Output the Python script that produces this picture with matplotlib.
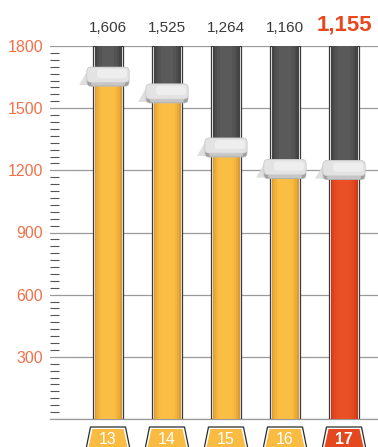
import matplotlib.pyplot as plt
from matplotlib.patches import FancyBboxPatch, Polygon
from matplotlib.ticker import MultipleLocator

# Data.
categories = ['13', '14', '15', '16', '17']
values = [1606, 1525, 1264, 1160, 1155]
value_labels = ['1,606', '1,525', '1,264', '1,160', '1,155']
y_ticks = [0, 300, 600, 900, 1200, 1500, 1800]
y_tick_labels = ['', '300', '600', '900', '1200', '1500', '1800']
y_max = 1800

plt.rcParams['font.family'] = ['Liberation Sans', 'DejaVu Sans']

W, H = 378, 447
fig = plt.figure(figsize=(W / 100, H / 100), dpi=100)
# axes: left edge at px 50, baseline at px 419, top (1800) at px 46
ax = fig.add_axes([50 / W, 28 / H, 328 / W, 373 / H])
px_x = 1 / 59.0            # x data units per pixel
px_y = y_max / 373.0       # y data units per pixel
ax.set_xlim(-58 * px_x, 270 * px_x)
ax.set_ylim(0, y_max)

for s in ax.spines.values():
    s.set_visible(False)
ax.set_xticks([])
ax.set_yticks(y_ticks)
ax.set_yticklabels(y_tick_labels, color='#F2714A', fontsize=11.5)
ax.tick_params(axis='y', which='major', length=0, pad=5)
ax.yaxis.set_minor_locator(MultipleLocator(100 / 3))
ax.tick_params(axis='y', which='minor', direction='in', length=6.5,
               width=0.8, color='#555555')
ax.grid(axis='y', color='#9a9a9a', linewidth=0.9, zorder=0)
ax.axhline(0, color='#9a9a9a', linewidth=0.9, zorder=1, clip_on=False)
ax.set_axisbelow(True)

x = list(range(len(categories)))
w_out = 30 * px_x


def shaded_bar(heights, colors, width_px, z):
    # crude horizontal gradient: stacked bars from wide/dark to narrow/light
    n = len(colors)
    for k, c in enumerate(colors):
        w = (width_px - k * (width_px - 8) / n) * px_x
        ax.bar(x, heights, width=w, color=c, zorder=z)


# track: frame, light inline, dark inside
ax.bar(x, y_max, width=w_out, color='#eeeeee', edgecolor='#3a3a3a',
       linewidth=0.9, zorder=2)
shaded_bar([y_max] * 5, ['#444444', '#4d4d4d', '#545454', '#5a5a5a'], 27, 3)

orange_shades = ['#DC9C2F', '#E9AA37', '#F3B43D', '#F9BB41', '#FBBE45']
red_shades = ['#C93A15', '#D9421B', '#E3481F', '#E84C22', '#EA5025']
for xi, v in zip(x, values):
    shades = red_shades if xi == x[-1] else orange_shades
    n = len(shades)
    for k, c in enumerate(shades):
        w = (27 - k * 19 / n) * px_x
        ax.bar(xi, v, width=w, color=c, zorder=4)

# slider handles sitting on top of each value
hw, hh = 42 * px_x, 19 * px_y
aspect = px_y / px_x
rs = 'round,pad=0,rounding_size=%f'
for xi, v in zip(x, values):
    shadow = Polygon([(xi - hw / 2, v + hh - 4 * px_y),
                      (xi - hw / 2 - 8 * px_x, v + 1 * px_y),
                      (xi - hw / 2, v + 1 * px_y)],
                     closed=True, facecolor='#dcdcdc', edgecolor='none',
                     alpha=0.9, zorder=5)
    ax.add_patch(shadow)
    base = FancyBboxPatch((xi - hw / 2, v), hw, hh,
                          boxstyle=rs % (4 * px_x), mutation_aspect=aspect,
                          facecolor='#9f9f9f', edgecolor='#bdbdbd',
                          linewidth=0.5, zorder=6)
    ax.add_patch(base)
    mid = FancyBboxPatch((xi - hw / 2 + 4 * px_x, v + 0.5 * px_y),
                         hw - 8 * px_x, 4 * px_y,
                         boxstyle=rs % (2 * px_x), mutation_aspect=aspect,
                         facecolor='#c6c6c6', edgecolor='none', zorder=7)
    ax.add_patch(mid)
    top = FancyBboxPatch((xi - hw / 2, v + 4 * px_y), hw, hh - 4 * px_y,
                         boxstyle=rs % (4 * px_x), mutation_aspect=aspect,
                         facecolor='#e3e3e3', edgecolor='#d2d2d2',
                         linewidth=0.5, zorder=8)
    ax.add_patch(top)
    hi = FancyBboxPatch((xi - hw / 2 + 10 * px_x, v + 8 * px_y),
                        hw - 12 * px_x, hh - 10 * px_y,
                        boxstyle=rs % (3 * px_x), mutation_aspect=aspect,
                        facecolor='#eeeeee', edgecolor='none', zorder=9)
    ax.add_patch(hi)

# value labels above the bars
label_y = y_max + 14 * px_y
for xi, lab in zip(x[:-1], value_labels[:-1]):
    ax.text(xi, label_y, lab, ha='center', va='baseline', fontsize=11,
            color='#3a3a3a', clip_on=False)
ax.text(x[-1], label_y + 1 * px_y, value_labels[-1], ha='center',
        va='baseline', fontsize=16, fontweight='bold', color='#E8461E',
        clip_on=False)

# trapezoid tabs under the bars
fills = ['#F9BB41'] * 4 + ['#E5471E']
t_top = -8 * px_y
t_bot = -40 * px_y
for xi, cat, c in zip(x, categories, fills):
    outer = Polygon([(xi - 17.5 * px_x, t_top), (xi + 17.5 * px_x, t_top),
                     (xi + 24 * px_x, t_bot), (xi - 24 * px_x, t_bot)],
                    closed=True, facecolor='white', edgecolor='#2a2a2a',
                    linewidth=0.9, clip_on=False, zorder=5)
    ax.add_patch(outer)
    inner = Polygon([(xi - 15.5 * px_x, t_top - 2 * px_y),
                     (xi + 15.5 * px_x, t_top - 2 * px_y),
                     (xi + 22 * px_x, t_bot), (xi - 22 * px_x, t_bot)],
                    closed=True, facecolor=c, edgecolor='none',
                    clip_on=False, zorder=6)
    ax.add_patch(inner)
    bold = cat == categories[-1]
    ax.text(xi, -25 * px_y, cat, ha='center', va='baseline', fontsize=11.5,
            color='white', fontweight='bold' if bold else 'normal',
            clip_on=False, zorder=7)

fig.savefig('out.png', dpi=100)
